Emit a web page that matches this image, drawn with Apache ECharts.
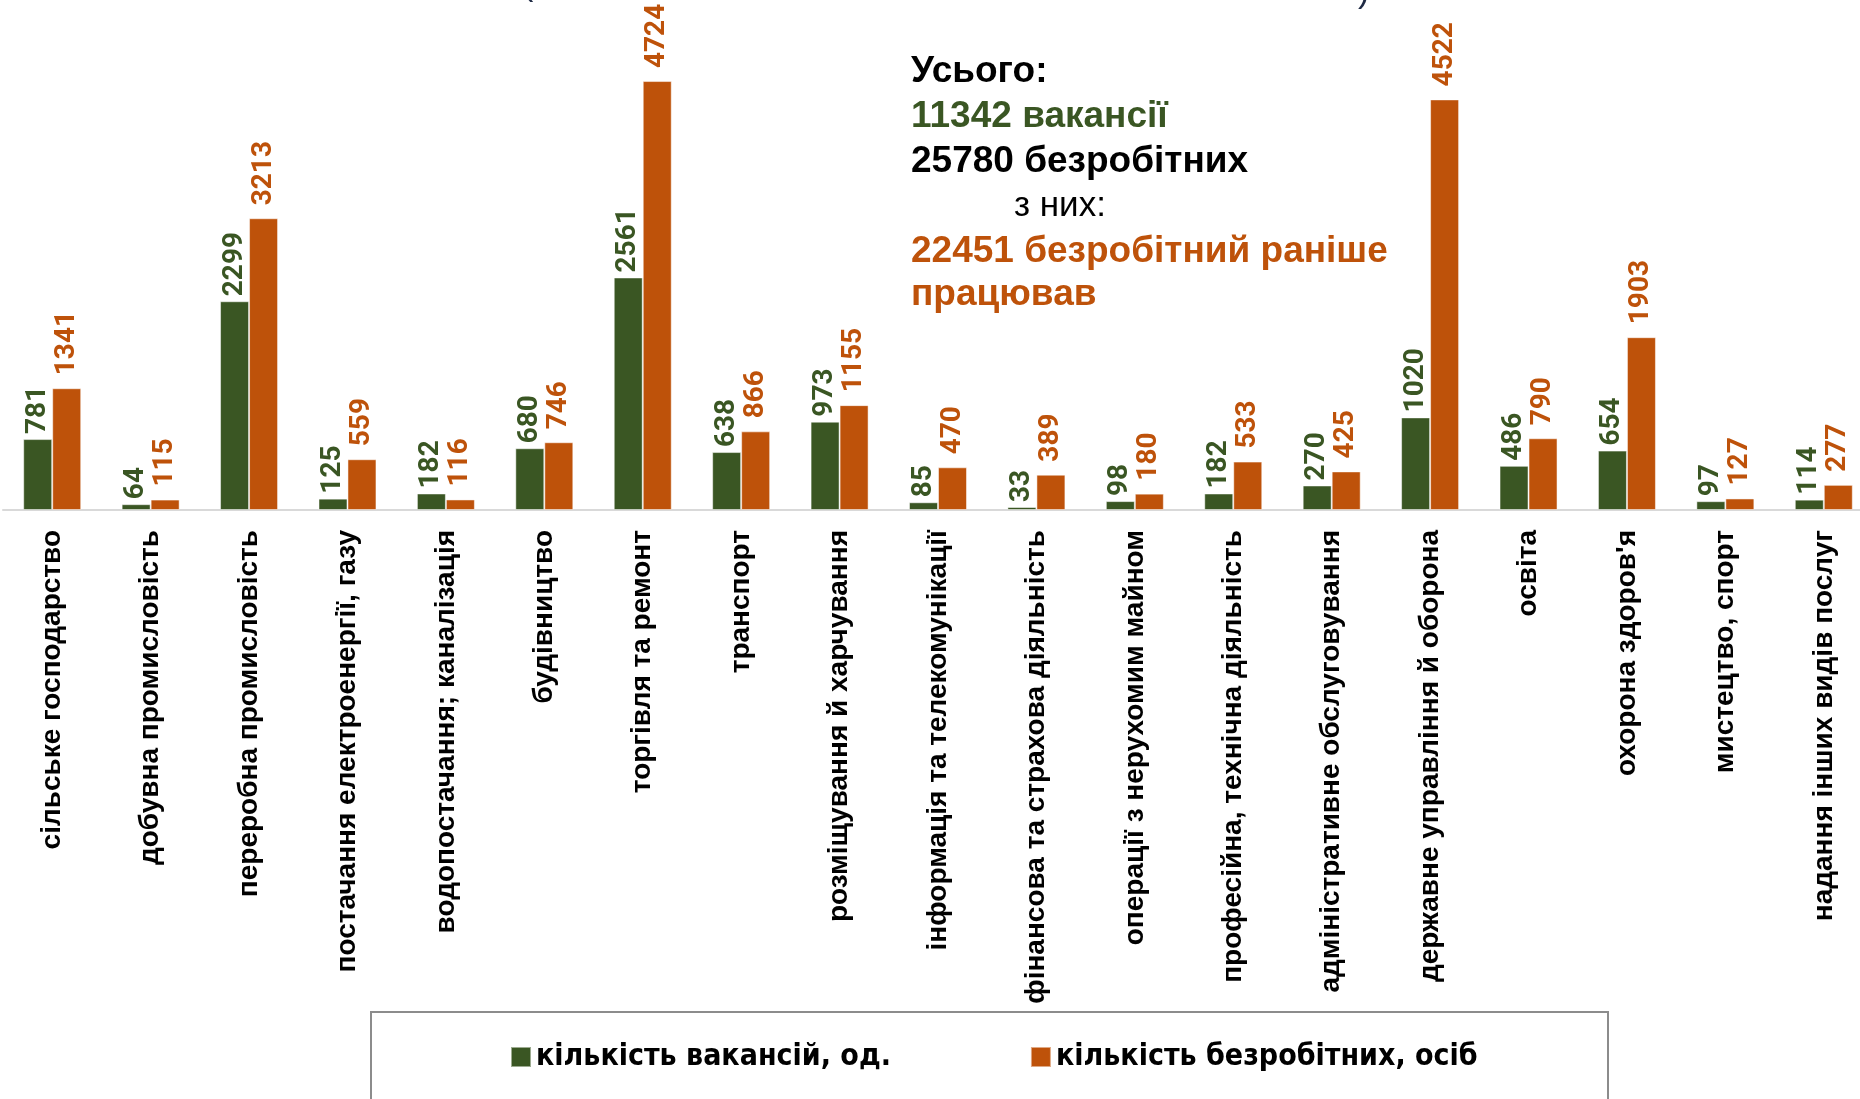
<!DOCTYPE html>
<html>
<head>
<meta charset="utf-8">
<script src="https://cdn.jsdelivr.net/npm/echarts@6/dist/echarts.min.js"></script>
<style>
html,body{margin:0;padding:0;background:#fff;overflow:hidden;}
#chart{width:1880px;height:1099px;}
</style>
</head>
<body>
<div id="chart"></div>
<script>
const categories = [
  "сільське господарство",
  "добувна промисловість",
  "переробна промисловість",
  "постачання електроенергії, газу",
  "водопостачання; каналізація",
  "будівництво",
  "торгівля та ремонт",
  "транспорт",
  "розміщування й харчування",
  "інформація та телекомунікації",
  "фінансова та страхова діяльність",
  "операції з нерухомим майном",
  "професійна, технічна діяльність",
  "адміністративне обслуговування",
  "державне управління й оборона",
  "освіта",
  "охорона здоров'я",
  "мистецтво, спорт",
  "надання інших видів послуг"
];
const vacancies = [781, 64, 2299, 125, 182, 680, 2561, 638, 973, 85, 33, 98, 182, 270, 1020, 486, 654, 97, 114];
const unemployed = [1341, 115, 3213, 559, 116, 746, 4724, 866, 1155, 470, 389, 180, 533, 425, 4522, 790, 1903, 127, 277];
const seriesNames = ["кількість вакансій, од.", "кількість безробітних, осіб"];
const noteLines = [
  {text: "Усього:", color: "#000000", bold: true},
  {text: "11342 вакансії", color: "#3A5623", bold: true},
  {text: "25780 безробітних", color: "#000000", bold: true},
  {text: "з них:", color: "#000000", bold: false},
  {text: "22451 безробітний раніше", color: "#BE520A", bold: true},
  {text: "працював", color: "#BE520A", bold: true}
];

const GREEN = "#3A5623";
const ORANGE = "#BE520A";

const chart = echarts.init(document.getElementById('chart'), null, {renderer: 'canvas'});

const noteBaselines = [85, 130, 175, 219, 265, 308];
const noteGraphics = noteLines.map((l, i) => {
  const size = l.bold ? 37 : 35;
  return {
    type: 'text',
    x: l.bold ? 911 : 1014,
    y: noteBaselines[i] - 0.35 * size,
    style: {
      text: l.text,
      fill: l.color,
      font: (l.bold ? 'bold ' : '') + size + 'px "Liberation Sans", Arial, sans-serif',
      verticalAlign: 'middle',
      align: 'left'
    },
    z: 10
  };
});

const labelBase = {
  show: true,
  position: 'top',
  rotate: 90,
  align: 'left',
  verticalAlign: 'middle',
  distance: 10,
  fontFamily: 'Roboto, sans-serif',
  fontWeight: 'bold',
  fontSize: 28
};

chart.setOption({
  animation: false,
  backgroundColor: '#ffffff',
  grid: {left: 3, right: 7, top: 56, bottom: 589, containLabel: false},
  xAxis: {
    type: 'category',
    data: categories,
    axisLine: {show: true, lineStyle: {color: '#D9D9D9', width: 2}},
    axisTick: {show: false},
    axisLabel: {
      interval: 0,
      rotate: 90,
      margin: 20,
      color: '#000000',
      fontFamily: '"Liberation Sans", Arial, sans-serif',
      fontWeight: 'bold',
      fontSize: 28
    },
    splitLine: {show: false}
  },
  yAxis: {
    type: 'value',
    min: 0,
    max: 5000,
    show: false,
    splitLine: {show: false}
  },
  legend: {
    data: seriesNames,
    left: 505,
    top: 1037,
    icon: 'rect',
    itemWidth: 20,
    itemHeight: 20,
    itemGap: 139,
    textStyle: {
      fontFamily: '"Liberation Sans Narrow", "DejaVu Sans Condensed", sans-serif',
      fontWeight: 'bold',
      fontSize: 30,
      color: '#000000'
    }
  },
  series: [
    {
      name: seriesNames[0],
      type: 'bar',
      data: vacancies,
      barWidth: 29,
      barGap: '0%',
      itemStyle: {color: GREEN, borderColor: 'rgba(255,255,255,0.5)', borderWidth: 1},
      label: Object.assign({}, labelBase, {color: GREEN, offset: [-5, 0]})
    },
    {
      name: seriesNames[1],
      type: 'bar',
      data: unemployed,
      barWidth: 29,
      barGap: '0%',
      itemStyle: {color: ORANGE, borderColor: 'rgba(255,255,255,0.5)', borderWidth: 1},
      label: Object.assign({}, labelBase, {color: ORANGE, offset: [3, 0]})
    }
  ],
  graphic: [
    {
      type: 'rect',
      shape: {x: 371, y: 1012, width: 1237, height: 200},
      style: {fill: 'none', stroke: '#8C8C8C', lineWidth: 2},
      z: 1
    },
    {
      type: 'text', x: 522, y: -31,
      style: {text: '(', fill: '#1F2A44', font: '34px "Liberation Sans", sans-serif', verticalAlign: 'top'}
    },
    {
      type: 'text', x: 1358, y: -24,
      style: {text: ')', fill: '#1F2A44', font: '34px "Liberation Sans", sans-serif', verticalAlign: 'top'}
    }
  ].concat(noteGraphics)
});
</script>
</body>
</html>
